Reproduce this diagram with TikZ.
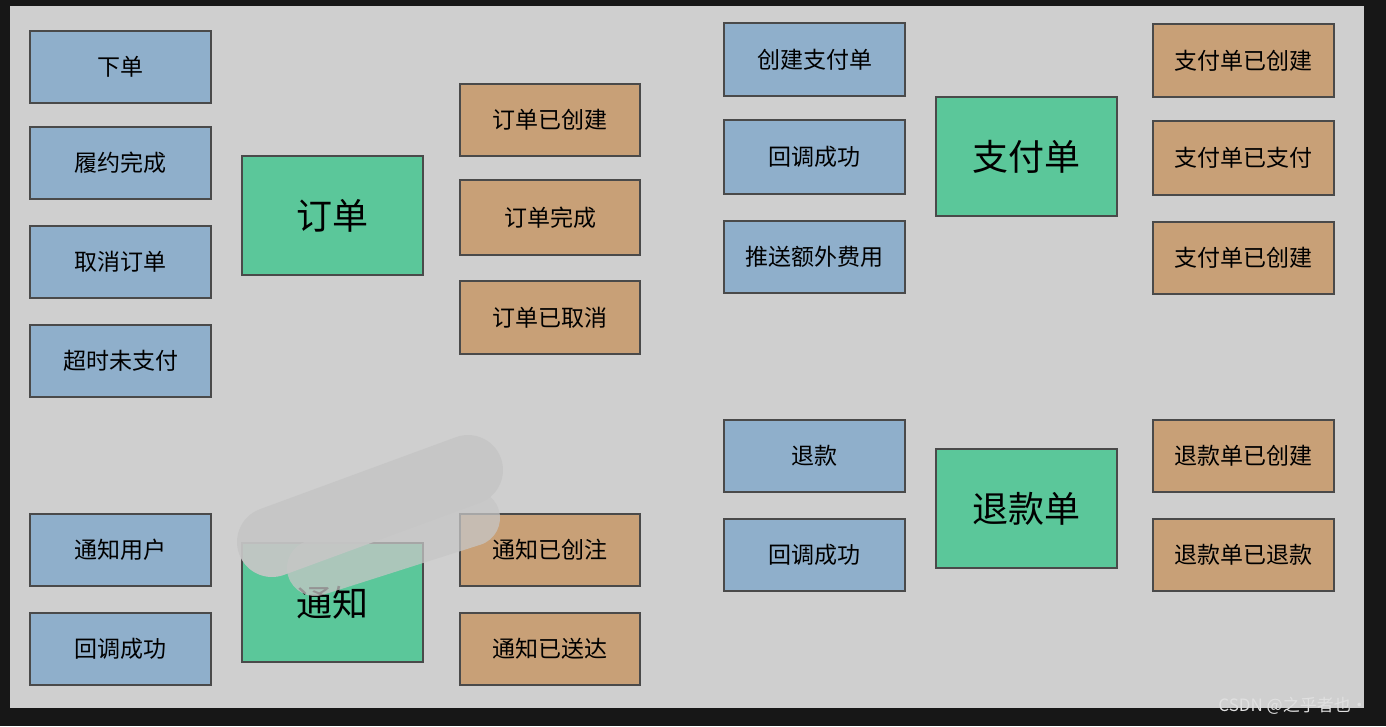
\documentclass[tikz,border=0pt]{standalone}
\usepackage{fontspec}
\newfontfamily\cjk{Noto Sans CJK SC}
\definecolor{frame}{HTML}{171717}
\definecolor{bg}{HTML}{CFCFCF}
\definecolor{evblue}{HTML}{8FAFCB}
\definecolor{stor}{HTML}{C8A077}
\definecolor{aggr}{HTML}{5BC79A}
\definecolor{edge}{HTML}{4A4A4A}
\definecolor{smudge}{HTML}{C6C6C6}
\tikzset{
  box/.style={draw=edge, line width=1.3pt, inner sep=0pt, font=\cjk\fontsize{23}{27}\selectfont, text=black},
  cmd/.style={box, fill=evblue, minimum width=181pt, minimum height=72pt},
  evt/.style={box, fill=stor, minimum width=180pt, minimum height=72pt},
  agg/.style={box, fill=aggr, minimum width=181pt, minimum height=119pt, font=\cjk\fontsize{36}{40}\selectfont},
}
\begin{document}
\begin{tikzpicture}[x=1pt,y=-1pt]
\useasboundingbox (0,0) rectangle (1386,726);
\fill[frame] (0,0) rectangle (1386,726);
\fill[bg] (10,6) rectangle (1364,708);
% left commands
\node[cmd] (c1) at (120.5,67) {下单};
\node[cmd] (c2) at (120.5,163) {履约完成};
\node[cmd] (c3) at (120.5,262) {取消订单};
\node[cmd] (c4) at (120.5,361) {超时未支付};
\node[cmd] (c5) at (120.5,550) {通知用户};
\node[cmd] (c6) at (120.5,649) {回调成功};
% left aggregates
\node[agg] (a1) at (332.5,215.5) {订单};
\node[agg] (a2) at (332.5,602.5) {通知};
% left events
\node[evt] (e1) at (550,120) {订单已创建};
\node[evt, minimum height=75pt] (e2) at (550,217.5) {订单完成};
\node[evt, minimum height=73pt] (e3) at (550,317.5) {订单已取消};
\node[evt] (e4) at (550,550) {通知已创注};
\node[evt] (e5) at (550,649) {通知已送达};
% right commands
\node[cmd, minimum height=73pt] (r1) at (814.5,59.5) {创建支付单};
\node[cmd, minimum height=74pt] (r2) at (814.5,157) {回调成功};
\node[cmd] (r3) at (814.5,257) {推送额外费用};
\node[cmd] (r4) at (814.5,456) {退款};
\node[cmd] (r5) at (814.5,555) {回调成功};
% right aggregates
\node[agg] (a3) at (1026.5,156.5) {支付单};
\node[agg] (a4) at (1026.5,508.5) {退款单};
% right events
\node[evt, minimum width=181pt, minimum height=73pt] (f1) at (1243.5,60.5) {支付单已创建};
\node[evt, minimum width=181pt, minimum height=74pt] (f2) at (1243.5,158) {支付单已支付};
\node[evt, minimum width=181pt] (f3) at (1243.5,258) {支付单已创建};
\node[evt, minimum width=181pt] (f4) at (1243.5,456) {退款单已创建};
\node[evt, minimum width=181pt] (f5) at (1243.5,555) {退款单已退款};
% smudge
\draw[smudge, opacity=0.93, line width=70pt, line cap=round] (272,542) -- (468,470);
\draw[smudge, opacity=0.75, line width=56pt, line cap=round] (315,568) -- (472,518);
% watermark
\node[text=white!88!black, font=\fontsize{17}{19}\selectfont\cjk, anchor=east, inner sep=0pt] (wm) at (1368,706) {CSDN @之乎者也·};
\end{tikzpicture}
\end{document}
